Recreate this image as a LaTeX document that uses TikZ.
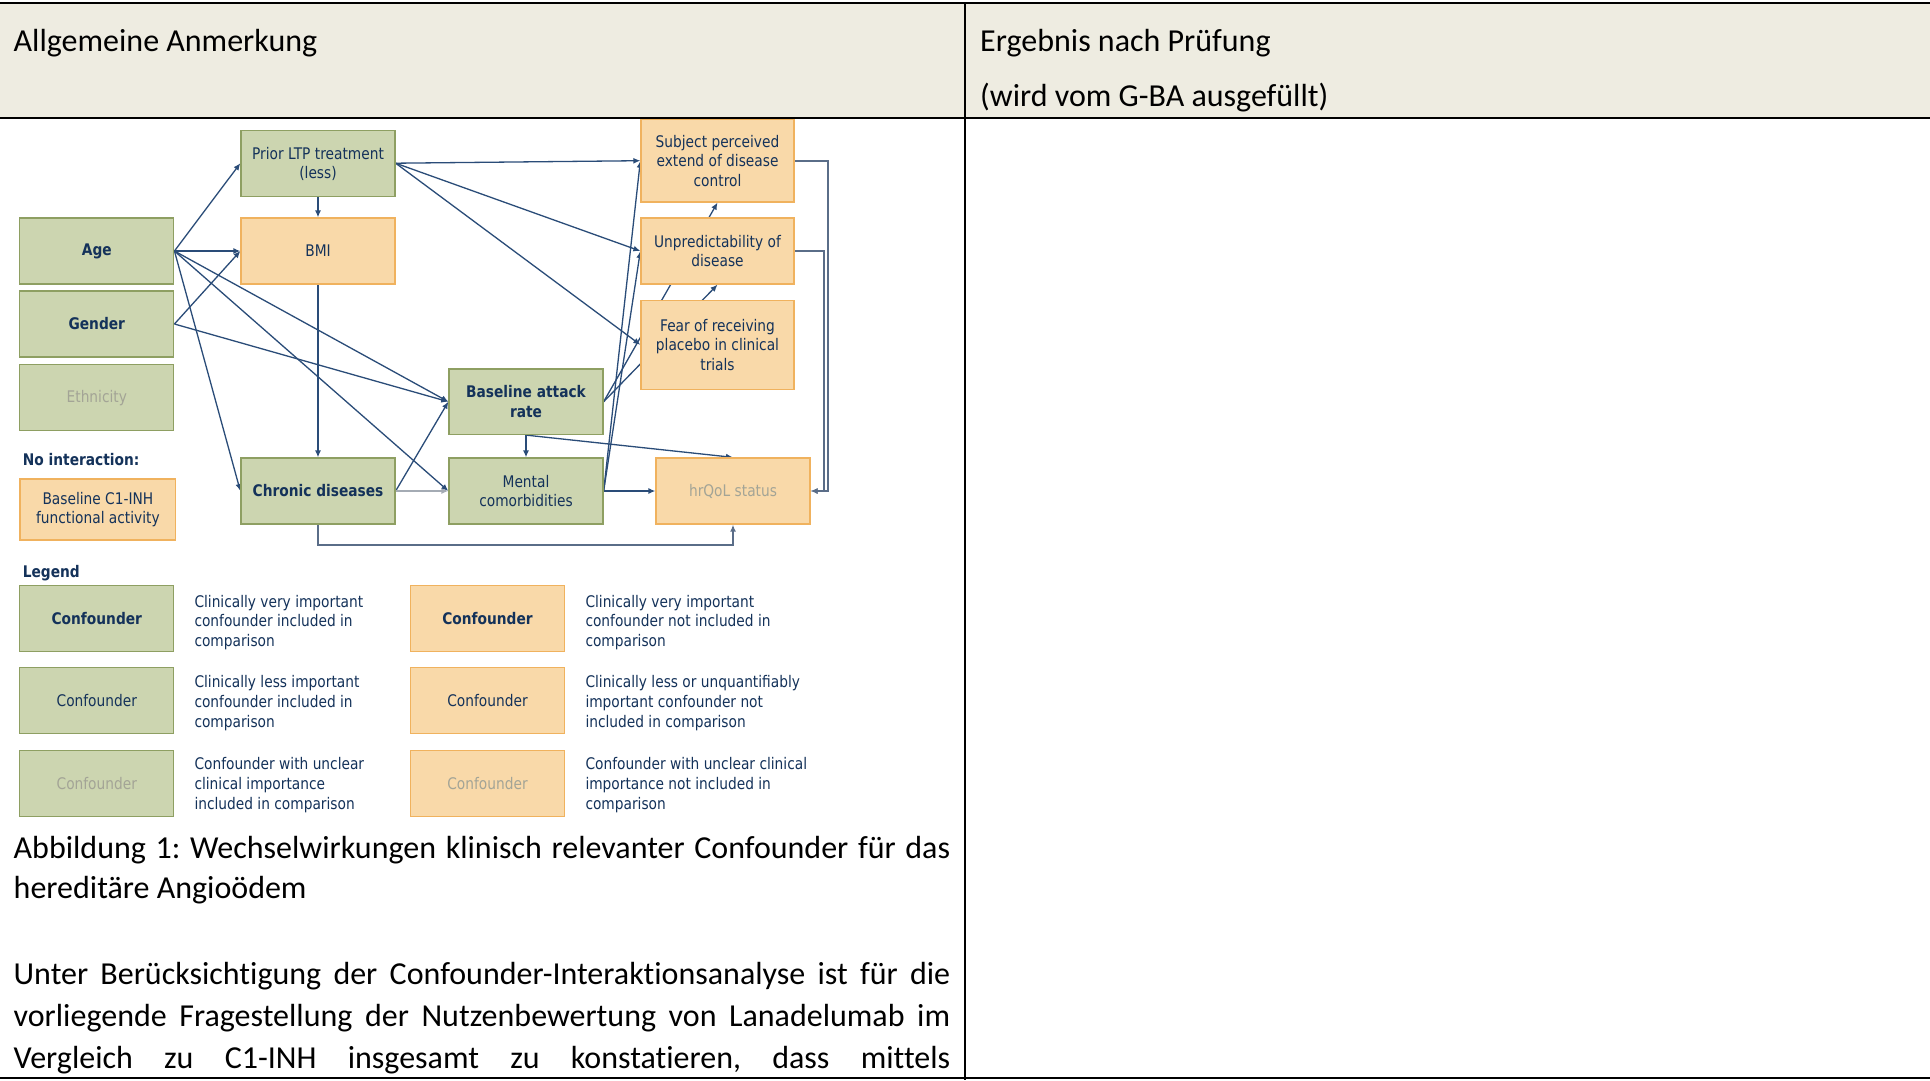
\documentclass[tikz,border=0pt]{standalone}
\usepackage{fontspec}
\setmainfont{Carlito}[Ligatures=NoCommon]
\newfontfamily\dv[FakeStretch=0.86]{DejaVu Sans}
\usetikzlibrary{arrows.meta}
\definecolor{hdr}{HTML}{EEECE1}
\definecolor{gfill}{HTML}{CCD5B0}
\definecolor{gdraw}{HTML}{8E9F62}
\definecolor{ofill}{HTML}{F9D9A9}
\definecolor{odraw}{HTML}{F0B25E}
\definecolor{navy}{HTML}{14325A}
\definecolor{grayt}{HTML}{A3A496}
\definecolor{conn}{HTML}{2A4C78}
\definecolor{fbc}{HTML}{5A6D88}
\definecolor{lgray}{HTML}{A4ABB4}
\pgfdeclarelayer{bg}
\pgfdeclarelayer{lines}
\pgfsetlayers{bg,lines,main}
\tikzset{
  box/.style={draw, line width=1.3pt, minimum width=154pt, minimum height=66pt,
    inner sep=0pt, align=center, font=\dv\fontsize{16}{19.6}\selectfont, text=navy},
  gbox/.style={box, fill=gfill, draw=gdraw},
  obox/.style={box, fill=ofill, draw=odraw},
  bf/.style={font=\dv\bfseries\fontsize{16}{19.6}\selectfont},
  dim/.style={text=grayt},
  lbl/.style={anchor=west, inner sep=0pt, text=navy, font=\dv\bfseries\fontsize{16}{19.6}\selectfont},
  lt/.style={anchor=west, inner sep=0pt, align=left, text=navy, font=\dv\fontsize{16}{19.6}\selectfont},
  arr/.style={draw=conn, line width=1.3pt, -{Latex[length=7pt,width=6pt]}},
  fbarr/.style={draw=fbc, line width=1.8pt, -{Latex[length=7pt,width=6pt]}},
  grayarr/.style={draw=lgray, line width=1.8pt, -{Latex[length=7pt,width=6pt]}},
  body/.style={anchor=base west, inner sep=0pt, font=\frenchspacing\fontsize{32}{41.8}\selectfont},
  rule/.style={draw=black}
}
\begin{document}
\begin{tikzpicture}[x=1pt,y=-1pt]
\useasboundingbox (0,0) rectangle (1930,1080);
\begin{pgfonlayer}{bg}
  \fill[white] (0,0) rectangle (1930,1080);
  \fill[hdr] (0,3) rectangle (1930,118);
  \draw[rule, line width=2.6pt] (0,3) -- (1930,3);
  \draw[rule, line width=2pt] (0,118) -- (1930,118);
  \draw[rule, line width=1.6pt] (965,3) -- (965,1080);
  \draw[rule, line width=2pt] (0,1078) -- (1930,1078);
\end{pgfonlayer}

% header texts
\node[body] (h1) at (13.5,51.5) {Allgemeine Anmerkung};
\node[body] (h2) at (980,51.5) {Ergebnis nach Prüfung};
\node[body] (h3) at (980,106.5) {(wird vom G-BA ausgefüllt)};

% diagram boxes
\node[gbox] (prior) at (318,163.2) {\strut Prior LTP treatment\\(less)};
\node[obox] (bmi) at (318,251) {BMI};
\node[gbox,bf] (age) at (96.8,251) {Age};
\node[gbox,bf] (gender) at (96.8,324) {Gender};
\node[gbox,dim] (ethn) at (96.8,397.7) {Ethnicity};
\node[obox,minimum width=155.7pt,minimum height=61pt] (c1inh) at (97.9,509.5) {Baseline C1-INH\\functional activity};
\node[gbox,bf] (chronic) at (318,491) {Chronic diseases};
\node[gbox,bf,minimum height=65.5pt] (base) at (526,401.7) {Baseline attack\\rate};
\node[gbox] (mental) at (526,491) {Mental\\comorbidities};
\node[obox,dim] (hrqol) at (733,491) {hrQoL status};
\node[obox,minimum width=153pt,minimum height=82.5pt] (subj) at (717.5,160.7) {Subject perceived\\extend of disease\\control};
\node[obox,minimum width=153pt] (unpred) at (717.5,251) {Unpredictability of\\disease};
\node[obox,minimum width=153pt,minimum height=89pt] (fear) at (717.5,344.8) {Fear of receiving\\placebo in clinical\\trials};

\node[lbl] (noint) at (22.7,460) {No interaction:};
\node[lbl] (legend) at (22.7,573) {Legend};

% legend
\node[gbox,bf] (lg1) at (96.8,618.8) {Confounder};
\node[gbox] (lg2) at (96.8,700.8) {Confounder};
\node[gbox,dim] (lg3) at (96.8,783.3) {Confounder};
\node[obox,bf,minimum width=153.6pt] (lo1) at (487.5,618.8) {Confounder};
\node[obox,minimum width=153.6pt] (lo2) at (487.5,700.8) {Confounder};
\node[obox,dim,minimum width=153.6pt] (lo3) at (487.5,783.3) {Confounder};
\node[lt] (lt1) at (194.3,622.5) {Clinically very important\\confounder included in\\comparison};
\node[lt] (lt2) at (194.3,703) {Clinically less important\\confounder included in\\comparison};
\node[lt] (lt3) at (194.3,785) {Confounder with unclear\\clinical importance\\included in comparison};
\node[lt] (lt4) at (585.3,622.5) {Clinically very important\\confounder not included in\\comparison};
\node[lt] (lt5) at (585.3,703) {Clinically less or unquantifiably\\important confounder not\\included in comparison};
\node[lt] (lt6) at (585.3,785) {Confounder with unclear clinical\\importance not included in\\comparison};

% connectors
\begin{pgfonlayer}{lines}
  \draw[arr] (age.east) -- (prior.west);
  \draw[arr] (age.east) -- (bmi.west);
  \draw[arr] (age.east) -- (chronic.west);
  \draw[arr] (age.east) -- (base.west);
  \draw[arr] (age.east) -- (mental.west);
  \draw[arr] (gender.east) -- (bmi.west);
  \draw[arr] (gender.east) -- (base.west);
  \draw[arr] (prior.south) -- (bmi.north);
  \draw[arr] (bmi.south) -- (chronic.north);
  \draw[arr] (prior.east) -- (subj.west);
  \draw[arr] (prior.east) -- (unpred.west);
  \draw[arr] (prior.east) -- (fear.west);
  \draw[arr] (chronic.east) -- (base.west);
  \draw[grayarr] (chronic.east) -- (mental.west);
  \draw[fbarr] (chronic.south) -- ++(0,20) -| (hrqol.south);
  \draw[arr] (base.south) -- (mental.north);
  \draw[arr] (base.south) -- (hrqol.north);
  \draw[arr] (base.east) -- (subj.south);
  \draw[arr] (base.east) -- (unpred.south);
  \draw[arr] (mental.east) -- (hrqol.west);
  \draw[arr] (mental.east) -- (subj.west);
  \draw[arr] (mental.east) -- (unpred.west);
  \draw[fbarr] (subj.east) -- ++(33,0) |- (hrqol.east);
  \draw[fbarr] (unpred.east) -- ++(29,0) |- (hrqol.east);
\end{pgfonlayer}

% caption and body
\node[body] (cap1) at (13.5,858) {\makebox[936.5pt][s]{Abbildung 1: Wechselwirkungen klinisch relevanter Confounder für das}};
\node[body] (cap2) at (13.5,898.5) {hereditäre Angioödem};
\node[body] (b1) at (13.5,984.5) {\makebox[936.5pt][s]{Unter Berücksichtigung der Confounder-Interaktionsanalyse ist für die}};
\node[body] (b2) at (13.5,1026.5) {\makebox[936.5pt][s]{vorliegende Fragestellung der Nutzenbewertung von Lanadelumab im}};
\node[body] (b3) at (13.5,1068.5) {\makebox[936.5pt][s]{Vergleich zu C1-INH insgesamt zu konstatieren, dass mittels}};
\end{tikzpicture}
\end{document}
